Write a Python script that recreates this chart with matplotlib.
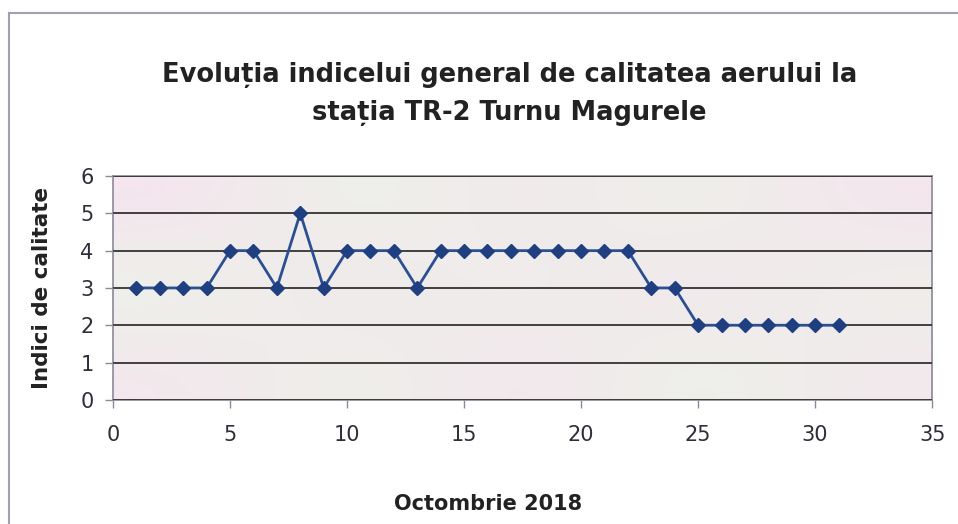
import numpy as np
import matplotlib.pyplot as plt
from matplotlib.lines import Line2D
from matplotlib.colors import LinearSegmentedColormap

plt.rcParams['font.family'] = ['DejaVu Sans']

# === Data ===
days = list(range(1, 32))
index_values = [3, 3, 3, 3, 4, 4, 3, 5, 3, 4,
                4, 4, 3, 4, 4, 4, 4, 4, 4, 4,
                4, 4, 3, 3, 2, 2, 2, 2, 2, 2, 2]
x_ticks = [0, 5, 10, 15, 20, 25, 30, 35]
y_ticks = [0, 1, 2, 3, 4, 5, 6]

title = "Evoluția indicelui general de calitatea aerului la\nstația TR-2 Turnu Magurele"
x_label = "Octombrie 2018"
y_label = "Indici de calitate"

# === Figure ===
fig = plt.figure(figsize=(9.58, 5.24), dpi=100)
ax = fig.add_axes([0.118, 0.237, 0.855, 0.427])

# soft pink / pale green background like the scan
grad = np.array([[0.0, 1.0, 0.2, 0.9, 0.1],
                 [1.0, 0.1, 0.9, 0.0, 0.8],
                 [0.2, 0.9, 0.0, 1.0, 0.3]])
cmap = LinearSegmentedColormap.from_list('bg', ['#f5e4ef', '#ebf3e8'])
ax.imshow(grad, extent=[0, 35, 0, 6], aspect='auto', cmap=cmap,
          interpolation='bicubic', zorder=0)

ax.plot(days, index_values, color='#2c4f92', linewidth=2, marker='D',
        markersize=7, markerfacecolor='#1f3f80', markeredgecolor='#1f3f80', zorder=3)

ax.set_xlim(0, 35)
ax.set_ylim(0, 6)
ax.set_xticks(x_ticks)
ax.set_yticks(y_ticks)
ax.yaxis.grid(True, color='#333333', linewidth=1.3)
ax.set_axisbelow(False)
for line in ax.get_ygridlines():
    line.set_zorder(1)

for side in ax.spines.values():
    side.set_color('#8a8a9a')
    side.set_linewidth(1.2)
ax.tick_params(axis='both', labelsize=15, colors='#8a8a9a', labelcolor='#2e2e38',
               length=6, width=1)
ax.tick_params(axis='x', pad=12)
ax.tick_params(axis='y', pad=8)

ax.set_ylabel(y_label, fontsize=15.5, fontweight='bold', color='#222222', labelpad=20)
ax.set_xlabel(x_label, fontsize=15, fontweight='bold', color='#222222')
ax.xaxis.set_label_coords(0.458, -0.42)
fig.text(0.532, 0.82, title, ha='center', va='center', fontsize=18.5,
         fontweight='bold', color='#222222', linespacing=1.6)

# outer chart frame (top and left edges visible in the scan)
fig.add_artist(Line2D([0.009, 1.0], [0.975, 0.975], color='#a0a0b0', linewidth=1.5))
fig.add_artist(Line2D([0.009, 0.009], [0.0, 0.975], color='#a0a0b0', linewidth=1.5))

fig.savefig('out.png', dpi=100)
